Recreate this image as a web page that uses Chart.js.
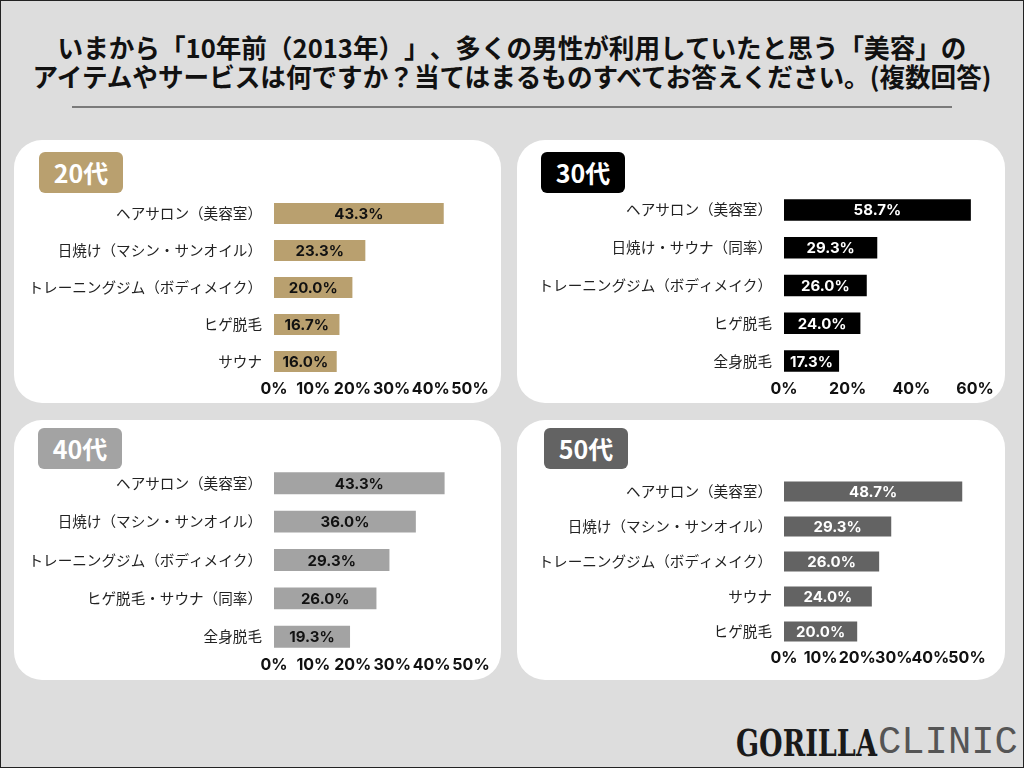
<!DOCTYPE html>
<html lang="ja">
<head>
<meta charset="utf-8">
<script src="https://cdn.jsdelivr.net/npm/chart.js@4.4.1/dist/chart.umd.min.js"></script>
<style>
  html, body { margin:0; padding:0; }
  body { width:1024px; height:768px; background:#dddddd; position:relative; overflow:hidden;
         font-family:"Noto Sans CJK JP", "Noto Sans", sans-serif; }
  #frame { position:absolute; left:0; top:0; width:1024px; height:768px; box-sizing:border-box; border:1px solid #222; pointer-events:none; }
  #title { position:absolute; left:0; top:32px; width:1024px; text-align:center; font-weight:700; font-size:25.6px; line-height:29px; color:#111; white-space:nowrap; text-spacing-trim: space-all; }
  #hr { position:absolute; left:72px; top:106px; width:880px; height:2px; background:#7a7a7a; }
  .panel { position:absolute; background:#ffffff; border-radius:28px; }
  .panel canvas { position:absolute; left:0; top:0; }
  .badge { position:absolute; width:84px; height:41px; border-radius:6px; color:#fff; font-weight:700; font-size:25px; line-height:41px; text-align:center; font-family:"Noto Sans CJK JP", sans-serif; }
  #logo { position:absolute; left:736px; top:721px; height:44px; white-space:nowrap; color:#1a1a1a; }
  #logo span { display:inline-block; transform-origin:left center; position:absolute; top:0; }
  #g1 { font-family:"DejaVu Serif", serif; font-weight:700; font-size:38px; line-height:44px; }
  #g2 { font-family:"Liberation Mono", monospace; font-weight:400; font-size:38px; line-height:44px; color:#555; }
</style>
</head>
<body>
<div id="title">いまから「10年前（2013年）」、多くの男性が利用していたと思う「美容」の<br>アイテムやサービスは何ですか？当てはまるものすべてお答えください。(複数回答)</div>
<div id="hr"></div>

<div class="panel" style="left:14px;top:140px;width:487px;height:263px"><canvas id="c20" width="487" height="263"></canvas></div>
<div class="panel" style="left:517px;top:140px;width:488px;height:263px"><canvas id="c30" width="488" height="263"></canvas></div>
<div class="panel" style="left:14px;top:420px;width:487px;height:260px"><canvas id="c40" width="487" height="260"></canvas></div>
<div class="panel" style="left:517px;top:420px;width:488px;height:260px"><canvas id="c50" width="488" height="260"></canvas></div>

<div class="badge" style="left:39px;top:152px;background:#b9a06f">20代</div>
<div class="badge" style="left:541px;top:152px;background:#000000">30代</div>
<div class="badge" style="left:38px;top:428px;background:#a3a3a3">40代</div>
<div class="badge" style="left:544px;top:428px;background:#636363">50代</div>

<div id="logo"><span id="g1">GORILLA</span><span id="g2">CLINIC</span></div>
<div id="frame"></div>

<script>
// ---- Data ----
const categories20 = ["ヘアサロン（美容室）", "日焼け（マシン・サンオイル）", "トレーニングジム（ボディメイク）", "ヒゲ脱毛", "サウナ"];
const values20 = [43.3, 23.3, 20.0, 16.7, 16.0];

const categories30 = ["ヘアサロン（美容室）", "日焼け・サウナ（同率）", "トレーニングジム（ボディメイク）", "ヒゲ脱毛", "全身脱毛"];
const values30 = [58.7, 29.3, 26.0, 24.0, 17.3];

const categories40 = ["ヘアサロン（美容室）", "日焼け（マシン・サンオイル）", "トレーニングジム（ボディメイク）", "ヒゲ脱毛・サウナ（同率）", "全身脱毛"];
const values40 = [43.3, 36.0, 29.3, 26.0, 19.3];

const categories50 = ["ヘアサロン（美容室）", "日焼け（マシン・サンオイル）", "トレーニングジム（ボディメイク）", "サウナ", "ヒゲ脱毛"];
const values50 = [48.7, 29.3, 26.0, 24.0, 20.0];

const ticks20 = [0, 10, 20, 30, 40, 50];
const ticks30 = [0, 20, 40, 60];
const ticks40 = [0, 10, 20, 30, 40, 50];
const ticks50 = [0, 10, 20, 30, 40, 50];

// ---- Logo sizing ----
(function(){
  const g1 = document.getElementById('g1'), g2 = document.getElementById('g2');
  const s1 = 141 / g1.offsetWidth, s2 = 140 / g2.offsetWidth;
  g1.style.transform = 'scaleX(' + s1 + ')';
  g2.style.left = '142px';
  g2.style.transform = 'scaleX(' + s2 + ')';
})();

// ---- Value label plugin ----
const valueLabels = {
  id: 'valueLabels',
  afterDatasetsDraw(chart, args, opts) {
    const ctx = chart.ctx;
    const meta = chart.getDatasetMeta(0);
    const data = chart.data.datasets[0].data;
    ctx.save();
    ctx.font = 'bold 15px Inter, "Noto Sans", sans-serif';
    ctx.fillStyle = opts.color || '#111';
    ctx.textAlign = 'center';
    ctx.textBaseline = 'middle';
    meta.data.forEach((bar, i) => {
      const x = (bar.x + bar.base) / 2;
      ctx.fillText(Number(data[i]).toFixed(1) + '%', x, bar.y + 1);
    });
    ctx.restore();
  }
};

function makeChart(id, labels, values, tickVals, color, textColor, area) {
  const cv = document.getElementById(id);
  const W = cv.width, H = cv.height;
  const maxV = tickVals[tickVals.length - 1];
  const step = tickVals[1] - tickVals[0];
  return new Chart(cv, {
    type: 'bar',
    data: {
      labels: labels,
      datasets: [{
        data: values,
        backgroundColor: color,
        borderWidth: 0,
        barPercentage: 0.57,
        categoryPercentage: 1.0
      }]
    },
    options: {
      indexAxis: 'y',
      responsive: false,
      animation: false,
      events: [],
      layout: { padding: { left: 0, top: area.top, right: W - area.right, bottom: 0 } },
      plugins: {
        legend: { display: false },
        tooltip: { enabled: false },
        title: { display: false },
        valueLabels: { color: textColor }
      },
      scales: {
        x: {
          min: 0, max: maxV,
          afterFit(scale) { scale.height = H - area.bottom; },
          afterBuildTicks(scale) { scale.ticks = tickVals.map(v => ({ value: v })); },
          grid: { display: false, drawTicks: false },
          border: { display: false },
          ticks: {
            autoSkip: false, maxRotation: 0, minRotation: 0, padding: 0,
            stepSize: step,
            color: '#111',
            font: { family: 'Inter, "Noto Sans", sans-serif', size: 16, weight: 'bold' },
            callback: (v) => v + '%'
          }
        },
        y: {
          afterFit(scale) { scale.width = area.left; },
          grid: { display: false, drawTicks: false },
          border: { display: false },
          ticks: {
            padding: 12,
            color: '#222',
            font: { family: '"Noto Sans CJK JP", sans-serif', size: 14.6 }
          }
        }
      }
    },
    plugins: [valueLabels]
  });
}

makeChart('c20', categories20, values20, ticks20, '#b9a06f', '#111111', { left: 260, right: 456, top: 55, bottom: 240 });
makeChart('c30', categories30, values30, ticks30, '#000000', '#ffffff', { left: 267, right: 458, top: 51, bottom: 240 });
makeChart('c40', categories40, values40, ticks40, '#a3a3a3', '#111111', { left: 260, right: 457, top: 44, bottom: 236 });
makeChart('c50', categories50, values50, ticks50, '#636363', '#ffffff', { left: 267, right: 450, top: 54, bottom: 229 });
</script>
</body>
</html>
